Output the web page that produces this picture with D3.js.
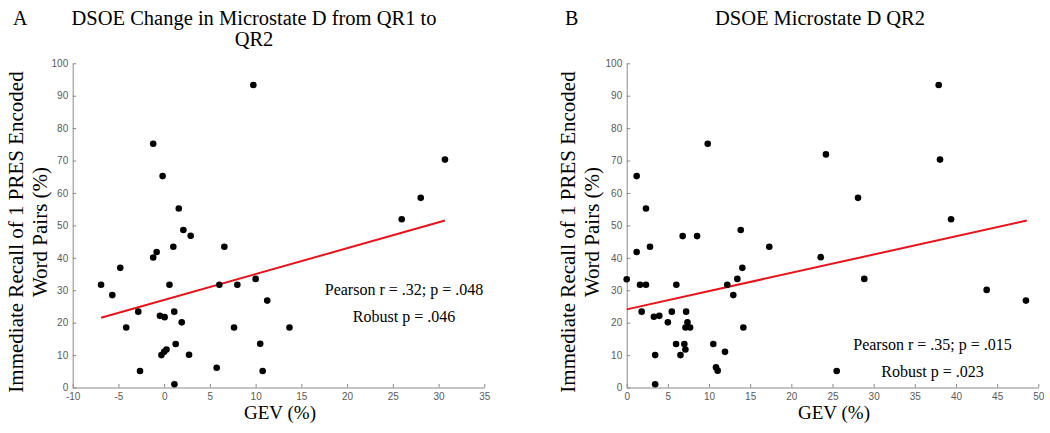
<!DOCTYPE html>
<html>
<head>
<meta charset="utf-8">
<script src="https://cdn.jsdelivr.net/npm/d3@7"></script>
<style>
  html, body { margin: 0; padding: 0; background: #fff; }
  svg { display: block; }
</style>
</head>
<body>
<svg id="chart" width="1050" height="433"></svg>
<script>
// ---------- DATA ----------
// Panel A: change in microstate D GEV (x) vs immediate recall (y)
const xA = [-6.9, -5.67, -4.8, -4.15, -2.83, -2.64, -1.2, -1.2, -0.82, -0.17,
            -0.46, 0.05, -0.3, 0.0, 0.25, 0.58, 1.0, 1.1, 1.26, 1.12,
            1.6, 2.1, 2.9, 1.92, 2.72, 5.74, 6.03, 6.58, 7.64, 8.0,
            9.75, 10.0, 10.5, 10.77, 11.27, 13.7, 25.97, 28.05, 30.7];
const yA = [31.7, 28.5, 36.9, 18.5, 23.4, 5.1, 75.2, 40.1, 41.8, 65.2,
            22.1, 21.7, 10.0, 11.0, 11.7, 31.7, 43.4, 23.4, 13.4, 1.0,
            55.2, 48.6, 46.8, 20.1, 10.1, 6.1, 31.7, 43.4, 18.5, 31.7,
            93.3, 33.5, 13.5, 5.1, 26.8, 18.5, 51.9, 58.5, 70.3];
const fitA = [[-6.9, 21.5], [30.7, 51.5]];

// Panel B: microstate D GEV at QR2 (x) vs immediate recall (y)
const xB = [0, 1.21, 1.21, 1.62, 1.82, 2.34, 2.34, 2.83, 3.3, 3.96,
            3.46, 3.46, 5.0, 5.48, 6.03, 6.0, 6.8, 6.53, 7.0, 7.13,
            7.22, 7.14, 7.38, 7.7, 8.55, 9.84, 10.52, 10.85, 11.05, 11.94,
            12.22, 12.95, 13.44, 13.85, 14.05, 14.17, 17.32, 23.57, 24.2, 25.51,
            28.1, 28.86, 37.9, 38.06, 39.4, 43.73, 48.5];
const yB = [33.4, 65.2, 41.8, 31.7, 23.4, 55.2, 31.7, 43.4, 21.8, 22.1,
            10.0, 1.0, 20.1, 23.4, 31.7, 13.4, 46.7, 10.0, 13.4, 11.7,
            23.4, 18.5, 20.1, 18.5, 46.7, 75.2, 13.4, 6.2, 5.2, 11.0,
            31.7, 28.5, 33.5, 48.6, 36.9, 18.5, 43.4, 40.2, 71.9, 5.1,
            58.5, 33.5, 93.3, 70.3, 51.9, 30.1, 26.8];
const fitB = [[0, 24.1], [48.6, 51.5]];

const xTicksA = ["-10", "-5", "0", "5", "10", "15", "20", "25", "30", "35"];
const xTicksB = ["0", "5", "10", "15", "20", "25", "30", "35", "40", "45", "50"];
const yTicks = ["0", "10", "20", "30", "40", "50", "60", "70", "80", "90", "100"];

const panelLetters = ["A", "B"];
const titlesA = ["DSOE Change in Microstate D from QR1 to", "QR2"];
const titlesB = ["DSOE Microstate D QR2"];
const yLabelLines = ["Immediate Recall of 1 PRES Encoded", "Word Pairs (%)"];
const xLabel = "GEV (%)";
const statsA = ["Pearson r = .32; p = .048", "Robust p = .046"];
const statsB = ["Pearson r = .35; p = .015", "Robust p = .023"];

// ---------- DRAW ----------
const svg = d3.select("#chart");
const SERIF = "'Liberation Serif', 'Times New Roman', serif";
const SANS = "'Liberation Sans', Arial, Helvetica, sans-serif";
const AXIS_COLOR = "#8a8a8a";
const TICK_TEXT = "#5a5a5a";

const yScale = d3.scaleLinear().domain([0, 100]).range([387.5, 63.3]);

function panel(opts) {
  const g = svg.append("g");
  const x = opts.x;

  // axes
  const xAxis = d3.axisBottom(x)
    .tickValues(opts.xTicks.map(Number))
    .tickFormat((d, i) => opts.xTicks[i])
    .tickSize(-3.5).tickSizeOuter(0).tickPadding(5);
  const yAxis = d3.axisLeft(yScale)
    .tickValues(yTicks.map(Number))
    .tickFormat((d, i) => yTicks[i])
    .tickSize(-3.5).tickSizeOuter(0).tickPadding(4.5);

  const gx = g.append("g").attr("transform", `translate(0,${yScale(0)})`).call(xAxis);
  const gy = g.append("g").attr("transform", `translate(${x(x.domain()[0])},0)`).call(yAxis);
  [gx, gy].forEach(a => {
    a.select(".domain").attr("stroke", AXIS_COLOR).attr("stroke-width", 1);
    a.selectAll(".tick line").attr("stroke", AXIS_COLOR);
    a.selectAll(".tick text").attr("fill", TICK_TEXT)
      .style("font-family", SANS).style("font-size", "10px");
  });

  // fit line
  g.append("line")
    .attr("x1", x(opts.fit[0][0])).attr("y1", yScale(opts.fit[0][1]))
    .attr("x2", x(opts.fit[1][0])).attr("y2", yScale(opts.fit[1][1]))
    .attr("stroke", "#e8121b").attr("stroke-width", 2);

  // points
  g.append("g").selectAll("circle")
    .data(opts.xs.map((v, i) => [v, opts.ys[i]]))
    .join("circle")
    .attr("cx", d => x(d[0])).attr("cy", d => yScale(d[1]))
    .attr("r", 3.3).attr("fill", "#000");

  // panel letter
  g.append("text").text(opts.letter)
    .attr("x", opts.letterX).attr("y", 25)
    .style("font-family", SERIF).style("font-size", "20px").attr("fill", "#000");

  // title
  opts.titles.forEach((t, i) => {
    g.append("text").text(t)
      .attr("x", opts.titleX).attr("y", 24.5 + i * 21)
      .attr("text-anchor", "middle")
      .style("font-family", SERIF).style("font-size", "20.5px").attr("fill", "#000");
  });

  // y label
  yLabelLines.forEach((t, i) => {
    g.append("text").text(t)
      .attr("transform", `translate(${opts.yLabX + i * 24},232) rotate(-90)`)
      .attr("text-anchor", "middle")
      .style("font-family", SERIF).style("font-size", "21px").attr("fill", "#000");
  });

  // x label
  g.append("text").text(xLabel)
    .attr("x", opts.xLabX).attr("y", 419)
    .attr("text-anchor", "middle")
    .style("font-family", SERIF).style("font-size", "19px").attr("fill", "#000");

  // stats
  opts.stats.forEach((t, i) => {
    g.append("text").text(t)
      .attr("x", opts.statX).attr("y", opts.statY + i * 27)
      .attr("text-anchor", "middle")
      .style("font-family", SERIF).style("font-size", "16px").attr("fill", "#000");
  });
}

panel({
  x: d3.scaleLinear().domain([-10, 35]).range([72.7, 484.3]),
  xs: xA, ys: yA, fit: fitA, xTicks: xTicksA,
  letter: panelLetters[0], letterX: 13,
  titles: titlesA, titleX: 254,
  yLabX: 23, xLabX: 280,
  stats: statsA, statX: 404, statY: 295
});

panel({
  x: d3.scaleLinear().domain([0, 50]).range([626.7, 1038.3]),
  xs: xB, ys: yB, fit: fitB, xTicks: xTicksB,
  letter: panelLetters[1], letterX: 565,
  titles: titlesB, titleX: 820,
  yLabX: 575, xLabX: 834,
  stats: statsB, statX: 932.5, statY: 350
});
</script>
</body>
</html>
